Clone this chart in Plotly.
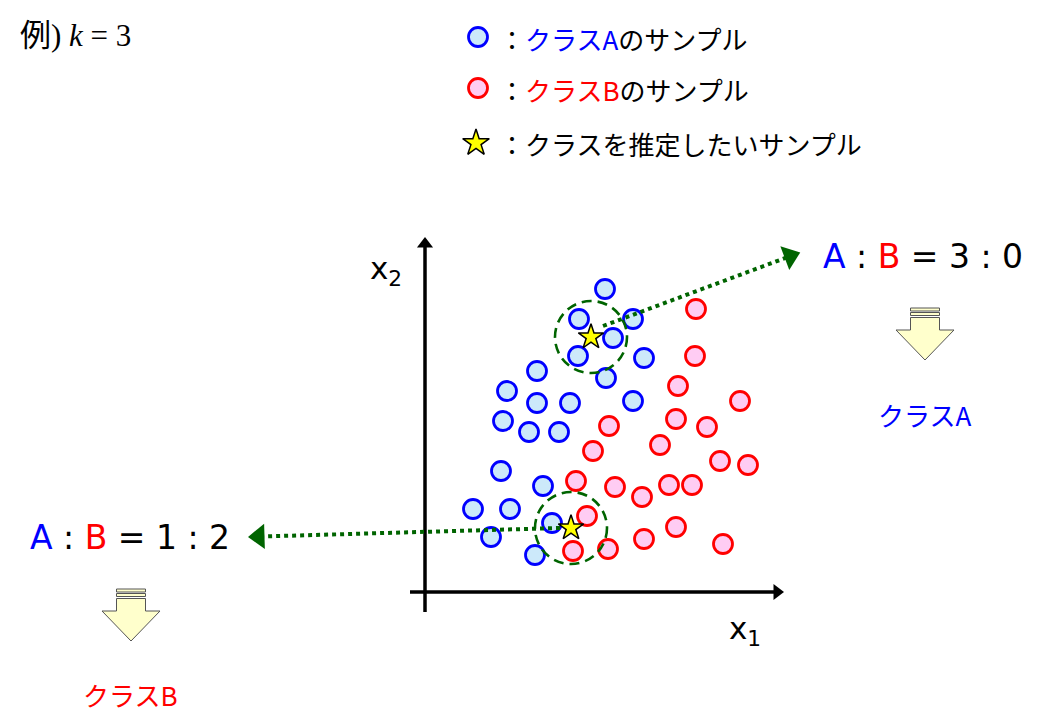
import math
import plotly.graph_objects as go

W, H = 1037, 724
OX, OY = 425, 592  # pixel position of the axes origin

# ---------------- data (x1, x2 in chart units) ----------------
class_a_x1 = [180, 154, 208, 188, 153, 219, 181, 112, 82, 112, 145, 208, 78, 104, 134, 76, 118, 48, 85, 127, 66, 110]
class_a_x2 = [303, 273, 273, 254, 236, 234, 214, 221, 201, 189, 189, 191, 171, 160, 160, 121, 106, 83, 83, 69, 55, 37]
class_b_x1 = [271, 270, 253, 315, 251, 184, 282, 235, 168, 295, 323, 151, 190, 217, 244, 267, 162, 251, 219, 148, 183, 298]
class_b_x2 = [283, 236, 206, 191, 173, 166, 165, 147, 141, 131, 127, 111, 105, 95, 107, 107, 76, 65, 53, 41, 43, 48]
query_x1 = [166, 146]
query_x2 = [255, 64]
k = 3
neighbor_radius = 36
votes_a = [3, 1]
votes_b = [0, 2]
predicted = ["クラスA", "クラスB"]
predicted_colors = ["#0000FF", "#FF0000"]
legend_labels = ["クラスA", "クラスB"]

# arrow from query point to its vote label
arrow_start_x1 = [178, 135]
arrow_start_x2 = [266, 64]
arrow_tip_x1 = [379, -181]
arrow_tip_x2 = [341, 55]

# coordinate axes (tail -> tip)
axis_tail_x1 = [0, -15]
axis_tail_x2 = [-20, 0]
axis_tip_x1 = [0, 362]
axis_tip_x2 = [358, 0]

BLUE, RED = "#0000FF", "#FF0000"
FILL_A, FILL_B = "#CCE9FA", "#FFCCF3"
GREEN = "#006400"
JP = "Noto Sans CJK JP"
LAT = "DejaVu Sans"


def P(px, py):
    """pixel position -> chart units (for decorations)"""
    return px - OX, OY - py


fig = go.Figure()


def arrow_trace(sx, sy, tx, ty, color, width, dash, head, back):
    dx, dy = tx - sx, ty - sy
    L = math.hypot(dx, dy)
    cx, cy = tx - dx / L * back, ty - dy / L * back
    return go.Scatter(x=[sx, cx], y=[sy, cy], mode="lines+markers",
                      line=dict(color=color, width=width, dash=dash),
                      marker=dict(size=[0, head], symbol="triangle-up", angleref="previous",
                                  color=color, opacity=1, line=dict(width=0)),
                      hoverinfo="skip")


# axes
for sx, sy, tx, ty in zip(axis_tail_x1, axis_tail_x2, axis_tip_x1, axis_tip_x2):
    fig.add_trace(arrow_trace(sx, sy, tx, ty, "black", 3.5, "solid", 14, 10))

# points
fig.add_trace(go.Scatter(x=class_a_x1, y=class_a_x2, mode="markers",
                         marker=dict(size=19, color=FILL_A, line=dict(color=BLUE, width=2.8)),
                         hoverinfo="skip"))
fig.add_trace(go.Scatter(x=class_b_x1, y=class_b_x2, mode="markers",
                         marker=dict(size=19, color=FILL_B, line=dict(color=RED, width=2.8)),
                         hoverinfo="skip"))

# neighbourhood circles
shapes = []
for qx, qy in zip(query_x1, query_x2):
    shapes.append(dict(type="circle", xref="x", yref="y",
                       x0=qx - neighbor_radius, x1=qx + neighbor_radius,
                       y0=qy - neighbor_radius, y1=qy + neighbor_radius,
                       line=dict(color=GREEN, width=2.6, dash="10px,6px"), layer="above"))

# dotted arrows
for sx, sy, tx, ty in zip(arrow_start_x1, arrow_start_x2, arrow_tip_x1, arrow_tip_x2):
    fig.add_trace(arrow_trace(sx, sy, tx, ty, GREEN, 4, "dot", 22, 15))

# query stars
fig.add_trace(go.Scatter(x=query_x1, y=query_x2, mode="markers",
                         marker=dict(size=19, symbol="star", color="#FFFF00",
                                     line=dict(color="black", width=1.5)),
                         hoverinfo="skip"))

# legend markers
lx, ly = zip(*[P(478, 37), P(478, 88)])
fig.add_trace(go.Scatter(x=[lx[0]], y=[ly[0]], mode="markers",
                         marker=dict(size=19, color=FILL_A, line=dict(color=BLUE, width=2.8)), hoverinfo="skip"))
fig.add_trace(go.Scatter(x=[lx[1]], y=[ly[1]], mode="markers",
                         marker=dict(size=19, color=FILL_B, line=dict(color=RED, width=2.8)), hoverinfo="skip"))
sx_, sy_ = P(476, 143)
fig.add_trace(go.Scatter(x=[sx_], y=[sy_], mode="markers",
                         marker=dict(size=20, symbol="star", color="#FFFF00",
                                     line=dict(color="black", width=1.5)), hoverinfo="skip"))


# block arrows
def block_arrow(cx, top):
    fill, edge = "#FFFFCC", "#555555"
    out = []
    for y0 in (top, top + 4.5):
        a = P(cx - 14.5, y0)
        b = P(cx + 14.5, y0 + 3)
        out.append(dict(type="rect", xref="x", yref="y", x0=a[0], y0=a[1], x1=b[0], y1=b[1],
                        fillcolor=fill, line=dict(color=edge, width=1)))
    pts = [(cx - 14.5, top + 9.5), (cx + 14.5, top + 9.5), (cx + 14.5, top + 22), (cx + 29, top + 22),
           (cx, top + 52), (cx - 29, top + 22), (cx - 14.5, top + 22)]
    d = "M " + " L ".join("%.1f,%.1f" % P(px, py) for px, py in pts) + " Z"
    out.append(dict(type="path", xref="x", yref="y", path=d, fillcolor=fill,
                    line=dict(color=edge, width=1)))
    return out


shapes += block_arrow(925, 308)
shapes += block_arrow(131, 589)

annotations = []


def txt(px, py, text, size, family=JP, color="black", xanchor="left"):
    x, y = P(px, py)
    annotations.append(dict(x=x, y=y, xref="x", yref="y", text=text, showarrow=False,
                            xanchor=xanchor, yanchor="middle",
                            font=dict(family=family, size=size, color=color)))


txt(368, 270, "x<sub>2</sub>", 31, family=LAT)
txt(727, 630, "x<sub>1</sub>", 31, family=LAT)

txt(18, 35, "例) <i>k</i> = %d" % k, 31, family="Liberation Serif, " + JP)

txt(497, 38, "：<span style='color:%s'>%s</span>のサンプル" % (BLUE, legend_labels[0]), 26)
txt(497, 89, "：<span style='color:%s'>%s</span>のサンプル" % (RED, legend_labels[1]), 26)
txt(497, 143, "：クラスを推定したいサンプル", 26)


def vote_text(a, b):
    return ("<span style='color:%s'>A</span> : <span style='color:%s'>B</span> = %d : %d"
            % (BLUE, RED, a, b))


txt(821, 256, vote_text(votes_a[0], votes_b[0]), 33, family=LAT)
txt(28, 537, vote_text(votes_a[1], votes_b[1]), 33, family=LAT)

txt(924, 414, predicted[0], 26, color=predicted_colors[0], xanchor="center")
txt(130, 694, predicted[1], 26, color=predicted_colors[1], xanchor="center")

fig.update_layout(
    width=W, height=H, margin=dict(l=0, r=0, t=0, b=0),
    paper_bgcolor="white", plot_bgcolor="white", showlegend=False,
    xaxis=dict(range=[-OX, W - OX], visible=False, fixedrange=True),
    yaxis=dict(range=[OY - H, OY], visible=False, fixedrange=True),
    shapes=shapes, annotations=annotations,
)

fig.write_html("out.html")
